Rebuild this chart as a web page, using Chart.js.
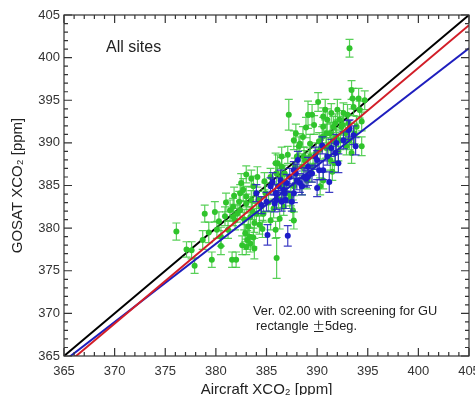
<!DOCTYPE html>
<html>
<head>
<meta charset="utf-8">
<script src="https://cdn.jsdelivr.net/npm/chart.js@4"></script>
<style>
  body { margin: 0; background: #fff; }
  canvas { display: block; }
</style>
</head>
<body>
<canvas id="myChart" width="475" height="395"></canvas>
<script>
// green: all matched sites, blue: screened subset
const greenX = [376.1, 377.1, 377.9, 377.6, 378.9, 378.7, 379.6, 379.9, 380.1, 380.5, 380.5, 381.6, 382.0, 381.2, 380.9,
  381.4, 381.7, 381.9, 382.1, 382.3, 382.4, 382.5, 382.7, 382.9, 383.0, 383.1, 383.2, 383.4, 383.5, 383.5,
  383.4, 383.8, 384.0, 384.2, 384.4, 384.6, 384.9, 385.4, 385.9, 386.0, 386.3, 386.1, 386.5, 386.6, 386.8,
  387.2, 387.7, 387.6, 387.4, 387.8, 388.0, 388.2, 388.5, 388.6, 388.7, 389.0, 389.1, 389.5, 389.3, 389.6,
  389.9, 390.1, 390.3, 390.5, 390.6, 390.6, 390.8, 390.9, 391.0, 391.1, 391.3, 391.4, 391.6, 391.7, 391.9,
  392.0, 392.2, 392.4, 392.6, 392.8, 392.9, 393.2, 393.4, 393.5, 393.6, 393.4, 393.2, 394.1, 394.4, 394.2,
  394.7, 393.9, 393.1, 387.0, 387.3, 383.7, 383.0, 385.4, 385.9, 387.7, 388.5, 391.3, 390.3, 389.3, 388.3,
  387.7, 390.6, 391.6, 392.3, 384.7, 383.7, 383.0, 381.7, 382.4, 386.0, 386.7, 386.5,
  382.6, 383.3, 383.8, 384.3, 383.6, 382.8, 381.0, 381.8, 380.3, 379.3, 384.8, 385.2, 386.4, 387.1, 387.9,
  388.9, 389.7, 390.2, 390.9, 391.8, 392.5, 393.0, 392.1, 391.5, 389.4, 388.8, 386.2, 385.7, 384.1, 383.0,
  394.4, 393.7];
const greenY = [379.6, 377.5, 375.6, 377.4, 381.7, 378.6, 376.3, 381.9, 379.8, 377.9, 379.0, 376.3, 376.3, 379.8, 381.4,
  382.1, 382.5, 380.9, 381.7, 383.1, 384.1, 385.3, 384.5, 379.4, 377.8, 378.6, 380.2, 381.3, 383.3, 385.8,
  378.2, 380.6, 381.7, 383.3, 382.5, 379.9, 384.1, 380.9, 379.8, 376.5, 381.1, 387.6, 387.2, 384.9, 386.4,
  393.3, 380.9, 382.1, 383.7, 387.2, 388.4, 389.6, 387.2, 390.7, 388.4, 385.6, 393.3, 393.3, 389.9, 387.2,
  388.8, 394.8, 384.9, 390.7, 391.9, 385.6, 393.9, 391.1, 392.7, 389.6, 388.0, 393.5, 391.9, 387.6, 390.7,
  393.9, 392.7, 391.9, 393.5, 391.1, 389.6, 401.1, 396.2, 395.2, 394.2, 388.8, 390.3, 395.2, 392.5, 393.9,
  395.0, 391.9, 392.3, 384.1, 383.3, 384.9, 382.9, 386.0, 387.6, 384.9, 384.9, 391.1, 389.2, 388.4, 389.9,
  390.3, 393.1, 390.3, 390.3, 381.7, 378.9, 383.7, 381.3, 382.1, 386.4, 382.5, 388.4,
  378.0, 379.0, 377.6, 380.4, 382.0, 381.0, 383.0, 383.8, 380.8, 379.5, 385.5, 383.0, 385.8, 388.6, 391.1,
  391.8, 392.1, 390.2, 389.4, 392.3, 392.1, 393.3, 389.0, 386.6, 386.5, 387.9, 383.4, 382.3, 386.0, 386.3,
  389.6, 391.1];
const greenErr = [1.0, 0.9, 0.9, 1.0, 1.0, 1.1, 0.9, 1.2, 1.0, 1.0, 1.1, 0.9, 0.9, 1.0, 1.1,
  1.2, 1.0, 1.1, 1.0, 1.2, 1.0, 1.1, 1.3, 1.0, 0.9, 1.1, 1.0, 1.2, 1.1, 1.0,
  1.0, 1.1, 1.2, 1.0, 1.1, 1.0, 1.2, 1.1, 1.0, 2.4, 1.2, 1.0, 1.1, 1.3, 1.0,
  1.8, 1.0, 1.2, 1.1, 1.0, 1.2, 1.1, 1.0, 1.2, 1.1, 1.0, 1.6, 1.2, 1.1, 1.0,
  1.2, 1.1, 1.0, 1.2, 1.1, 1.0, 1.2, 1.1, 1.3, 1.0, 1.2, 1.1, 1.2, 1.0, 1.1,
  1.2, 1.1, 1.0, 1.2, 1.1, 1.0, 1.05, 1.1, 1.2, 1.0, 1.2, 1.1, 1.2, 1.1, 1.0,
  1.1, 1.2, 1.0, 1.1, 1.0, 1.2, 1.1, 1.0, 1.2, 1.1, 1.0, 1.2, 1.1, 1.0, 1.2,
  1.1, 1.0, 1.2, 1.1, 1.0, 1.1, 1.2, 1.0, 1.1, 1.2, 1.0, 1.1,
  1.1, 1.0, 1.2, 1.1, 1.0, 1.2, 1.1, 1.0, 1.1, 1.2, 1.0, 1.1, 1.2, 1.0, 1.1,
  1.2, 1.1, 1.0, 1.2, 1.1, 1.0, 1.2, 1.1, 1.0, 1.1, 1.2, 1.0, 1.1, 1.2, 1.0,
  1.1, 1.2];

const blueX = [384.0, 384.5, 385.0, 385.1, 385.4, 385.6, 385.9, 386.0, 386.2, 386.4, 386.5, 386.7, 386.8, 386.9, 387.1,
  387.3, 387.5, 387.7, 387.9, 388.1, 388.3, 388.5, 388.7, 388.9, 389.1, 389.5, 389.8, 390.0, 390.2, 390.5,
  390.6, 391.0, 391.2, 391.4, 391.8, 391.9, 392.1, 392.6, 393.1, 393.2, 393.6, 393.8, 387.0, 388.0, 389.1,
  390.0, 385.8, 387.7];
const blueY = [384.1, 382.7, 383.1, 379.2, 384.9, 385.4, 384.1, 383.3, 384.9, 385.6, 383.1, 384.5, 384.1, 383.3, 379.1,
  386.0, 383.1, 386.8, 386.4, 388.0, 385.3, 384.9, 386.0, 385.8, 387.2, 386.4, 388.4, 384.7, 386.8, 389.7,
  386.8, 388.4, 385.4, 389.4, 388.8, 390.0, 387.6, 390.3, 391.5, 391.7, 390.9, 389.6, 385.3, 385.6, 386.0,
  388.0, 382.9, 384.1];
const blueErr = [1.0, 1.0, 1.1, 1.2, 1.0, 1.1, 1.0, 1.1, 1.0, 1.2, 1.1, 1.0, 1.1, 1.0, 1.2,
  1.0, 1.1, 1.0, 1.1, 1.0, 1.1, 1.0, 1.1, 1.0, 1.1, 1.0, 1.1, 1.0, 1.1, 1.0,
  1.1, 1.0, 1.2, 1.0, 1.1, 1.0, 1.1, 1.0, 1.1, 1.0, 1.1, 1.0, 1.0, 1.1, 1.0,
  1.1, 1.0, 1.1];

// regression lines, ends at x = 365 and 405
const lineX = [365, 405];
const oneToOneY = [365, 405];
const redFitY = [363.8, 403.8];
const blueFitY = [364.4, 401.1];

const axisTicks = [365, 370, 375, 380, 385, 390, 395, 400, 405];

const GREEN = "rgb(48, 196, 44)";
const BLUE = "rgb(28, 28, 200)";

function toPoints(xs, ys, errs) {
  return xs.map((x, i) => ({ x: x, y: ys[i], e: errs ? errs[i] : 0 }));
}

const errorBars = {
  id: "errorBars",
  beforeDatasetDraw(chart, args) {
    const ds = chart.data.datasets[args.index];
    if (!ds.errorColor) return;
    const ctx = chart.ctx;
    const xs = chart.scales.x, ys = chart.scales.y;
    const area = chart.chartArea;
    ctx.save();
    ctx.beginPath();
    ctx.rect(area.left, area.top, area.right - area.left, area.bottom - area.top);
    ctx.clip();
    ctx.strokeStyle = ds.errorColor;
    ctx.lineWidth = 1.2;
    ds.data.forEach((p) => {
      const px = xs.getPixelForValue(p.x);
      const top = ys.getPixelForValue(p.y + p.e);
      const bot = ys.getPixelForValue(p.y - p.e);
      ctx.beginPath();
      ctx.moveTo(px, top); ctx.lineTo(px, bot);
      ctx.moveTo(px - 4, top); ctx.lineTo(px + 4, top);
      ctx.moveTo(px - 4, bot); ctx.lineTo(px + 4, bot);
      ctx.stroke();
    });
    ctx.restore();
  },
};

const frameAndText = {
  id: "frameAndText",
  afterDraw(chart) {
    const ctx = chart.ctx;
    const a = chart.chartArea;
    const xs = chart.scales.x, ys = chart.scales.y;
    ctx.save();
    ctx.strokeStyle = "#333";
    ctx.lineWidth = 1.2;
    ctx.strokeRect(a.left, a.top, a.right - a.left, a.bottom - a.top);
    ctx.beginPath();
    for (let v = 365; v <= 405; v++) {
      const len = v % 5 === 0 ? 8 : 4;
      const px = xs.getPixelForValue(v);
      ctx.moveTo(px, a.bottom); ctx.lineTo(px, a.bottom - len);
      ctx.moveTo(px, a.top); ctx.lineTo(px, a.top + len);
      const py = ys.getPixelForValue(v);
      ctx.moveTo(a.left, py); ctx.lineTo(a.left + len, py);
      ctx.moveTo(a.right, py); ctx.lineTo(a.right - len, py);
    }
    ctx.stroke();

    ctx.fillStyle = "#222";
    ctx.textBaseline = "middle";
    ctx.font = "16px 'Liberation Sans', Arial, sans-serif";
    ctx.fillText("All sites", 106, 48);
    ctx.font = "12.8px 'Liberation Sans', Arial, sans-serif";
    ctx.fillText("Ver. 02.00 with screening for GU", 253, 311);
    let tx = 256;
    ctx.fillText("rectangle ", tx, 326);
    tx += ctx.measureText("rectangle ").width;
    ctx.font = "12.8px 'Noto Sans CJK JP', sans-serif";
    ctx.fillText("\u00b1", tx, 326);
    tx += ctx.measureText("\u00b1").width;
    ctx.font = "12.8px 'Liberation Sans', Arial, sans-serif";
    ctx.fillText("5deg.", tx, 326);
    ctx.restore();
  },
};

const axisFont = { family: "'Liberation Sans', Arial, sans-serif", size: 13 };
const titleFont = { family: "'Liberation Sans', Arial, sans-serif", size: 15 };

const ctx = document.getElementById("myChart").getContext("2d");
let chart = new Chart(ctx, {
  type: "scatter",
  data: {
    datasets: [
      {
        type: "line",
        label: "fit (all)",
        data: toPoints(lineX, redFitY),
        borderColor: "rgb(210, 30, 40)",
        borderWidth: 2,
        pointRadius: 0,
      },
      {
        type: "line",
        label: "fit (screened)",
        data: toPoints(lineX, blueFitY),
        borderColor: "rgb(30, 30, 190)",
        borderWidth: 2,
        pointRadius: 0,
      },
      {
        label: "screened",
        data: toPoints(blueX, blueY, blueErr),
        backgroundColor: BLUE,
        borderColor: BLUE,
        errorColor: "rgba(40, 40, 190, 0.9)",
        pointRadius: 3,
        borderWidth: 0,
      },
      {
        label: "all",
        data: toPoints(greenX, greenY, greenErr),
        backgroundColor: GREEN,
        borderColor: GREEN,
        errorColor: "rgba(60, 200, 60, 0.85)",
        pointRadius: 3,
        borderWidth: 0,
      },
      {
        type: "line",
        label: "1:1",
        data: toPoints(lineX, oneToOneY),
        borderColor: "#000",
        borderWidth: 2,
        pointRadius: 0,
      },
    ],
  },
  options: {
    responsive: false,
    animation: false,
    layout: { padding: { top: 15, right: 6, left: 0, bottom: 0 } },
    plugins: { legend: { display: false }, tooltip: { enabled: false } },
    scales: {
      x: {
        type: "linear",
        min: 365,
        max: 405,
        afterBuildTicks: (s) => { s.ticks = axisTicks.map((v) => ({ value: v })); },
        afterFit: (s) => { s.height = 39; s.paddingLeft = 0; s.paddingRight = 0; },
        ticks: { font: axisFont, color: "#333", padding: 8, maxRotation: 0 },
        grid: { display: false, drawTicks: false },
        border: { display: false },
        title: { display: true, text: "Aircraft XCO\u2082 [ppm]", font: titleFont, color: "#222", padding: { top: 0, bottom: -4 } },
      },
      y: {
        type: "linear",
        min: 365,
        max: 405,
        afterBuildTicks: (s) => { s.ticks = axisTicks.map((v) => ({ value: v })); },
        afterFit: (s) => { s.width = 64; s.paddingTop = 0; s.paddingBottom = 0; },
        ticks: { font: axisFont, color: "#333", padding: 4 },
        grid: { display: false, drawTicks: false },
        border: { display: false },
        title: { display: true, text: "GOSAT XCO\u2082 [ppm]", font: titleFont, color: "#222", padding: { top: 9, bottom: 0 } },
      },
    },
  },
  plugins: [errorBars, frameAndText],
});
</script>
</body>
</html>
